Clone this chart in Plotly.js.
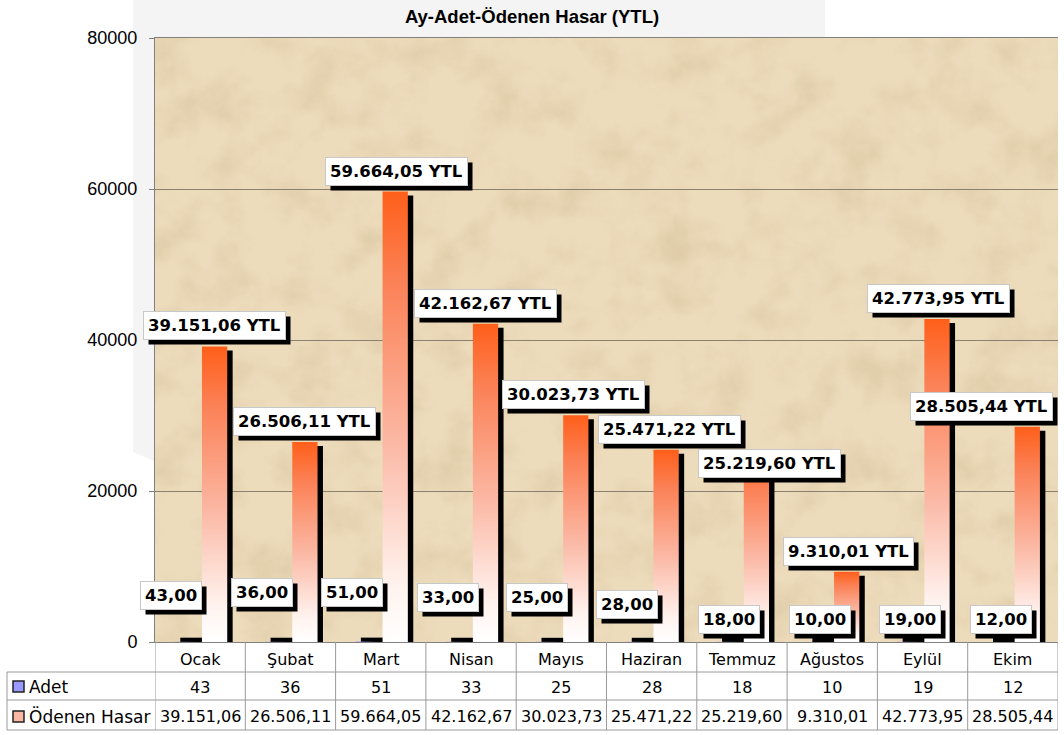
<!DOCTYPE html>
<html>
<head>
<meta charset="utf-8">
<script src="https://cdn.plot.ly/plotly-3.0.1.min.js"></script>
<style>html,body{margin:0;padding:0;background:#fff;}#chart{width:1064px;height:735px;}</style>
</head>
<body>
<div id="chart"></div>
<script>
// ---------- DATA ----------
const months = ["Ocak", "Şubat", "Mart", "Nisan", "Mayıs", "Haziran", "Temmuz", "Ağustos", "Eylül", "Ekim"];
const adet = [43, 36, 51, 33, 25, 28, 18, 10, 19, 12];
const odenenHasar = [39151.06, 26506.11, 59664.05, 42162.67, 30023.73, 25471.22, 25219.60, 9310.01, 42773.95, 28505.44];
const seriesNames = ["Adet", "Ödenen Hasar"];
const chartTitle = "Ay-Adet-Ödenen Hasar (YTL)";
const yTicks = [0, 20000, 40000, 60000, 80000];

// ---------- STYLE / LAYOUT CONFIG ----------
const W = 1064, H = 735;
const M = {l: 155, r: 6, t: 38, b: 93};
const PW = W - M.l - M.r, PH = H - M.t - M.b;
const xp = px => (px - M.l) / PW;           // pixel -> paper x
const yp = py => (H - M.b - py) / PH;       // pixel -> paper y
const barGeom = {adet: [-0.28, -0.005], odenen: [0.02, 0.30], shadowDx: 0.06};
const odenenLabelDx = [0, 0, 1, 0, -2, 3, 13, 2, 1, -46];
const odenenLabelDy = [6, 6, 6, 6, 6, 6, -26, 6, 6, 6];
const adetLabelDx = [-29, -28, -29, -23, -24, -25, -13, -12, -13, -12];
const adetLabelDy = [32, 35, 35, 30, 30, 23, 8, 8, 8, 8];
const gradScale = [[0, '#ffffff'], [0.12, '#fff3ef'], [0.45, '#fbb7a3'], [0.8, '#fb8156'], [1, '#ff5f1a']];
const labelFont = {family: 'DejaVu Sans', size: 16.5, color: '#000', weight: 'bold'};
const tableFont = {family: 'DejaVu Sans', size: 16, color: '#000'};
const shadowOffset = 5;

function trFmt(v) {
  const parts = v.toFixed(2).split('.');
  return parts[0].replace(/\B(?=(\d{3})+(?!\d))/g, '.') + ',' + parts[1];
}

// ---------- TRACES ----------
const traces = [];
const yUnitsPerPx = 80000 / PH;
months.forEach((m, i) => {
  const v = odenenHasar[i];
  const a = adet[i];
  const [o0, o1] = barGeom.odenen;
  const [a0, a1] = barGeom.adet;
  const dx = barGeom.shadowDx;
  traces.push({type: 'scatter', mode: 'lines', fill: 'toself', fillcolor: '#000', line: {width: 0},
    x: [i + a0 + dx, i + a1 + dx, i + a1 + dx, i + a0 + dx], y: [0, 0, a + 4 * yUnitsPerPx, a + 4 * yUnitsPerPx],
    hoverinfo: 'skip', showlegend: false});
  traces.push({type: 'scatter', mode: 'lines', fill: 'toself', fillcolor: '#9999ff', line: {width: 0},
    x: [i + a0, i + a1, i + a1, i + a0], y: [0, 0, a, a], name: seriesNames[0],
    hoverinfo: 'skip', showlegend: false});
  traces.push({type: 'scatter', mode: 'lines', fill: 'toself', fillcolor: '#000', line: {width: 0},
    x: [i + o0 + dx, i + o1 + dx, i + o1 + dx, i + o0 + dx], y: [0, 0, v - 4 * yUnitsPerPx, v - 4 * yUnitsPerPx],
    hoverinfo: 'skip', showlegend: false});
  traces.push({type: 'scatter', mode: 'lines', fill: 'toself', line: {width: 0},
    fillgradient: {type: 'vertical', colorscale: gradScale, start: 0, stop: v},
    x: [i + o0, i + o1, i + o1, i + o0], y: [0, 0, v, v], name: seriesNames[1],
    hoverinfo: 'skip', showlegend: false});
});

// ---------- ANNOTATIONS ----------
const ann = [];
const labelIdx = [];
function boxLabel(x, y, text, dx, dy) {
  labelIdx.push(ann.length);
  ann.push({x: x, y: y, xref: 'x', yref: 'y', text: text, showarrow: false, yanchor: 'bottom',
    xshift: dx, yshift: dy, font: labelFont, bgcolor: '#ffffff',
    bordercolor: '#c8c8c8', borderwidth: 1, borderpad: 4});
}
months.forEach((m, i) => {
  const [o0, o1] = barGeom.odenen;
  boxLabel(i + (o0 + o1) / 2, odenenHasar[i], trFmt(odenenHasar[i]) + ' YTL', odenenLabelDx[i], odenenLabelDy[i]);
  boxLabel(i, adet[i], trFmt(adet[i]), adetLabelDx[i], adetLabelDy[i]);
  ann.push({x: i, y: yp(659), xref: 'x', yref: 'paper', text: m, showarrow: false, font: tableFont, yanchor: 'middle'});
  ann.push({x: i, y: yp(687), xref: 'x', yref: 'paper', text: String(adet[i]), showarrow: false, font: tableFont, yanchor: 'middle'});
  ann.push({x: i, y: yp(716), xref: 'x', yref: 'paper', text: trFmt(odenenHasar[i]), showarrow: false, font: tableFont, yanchor: 'middle'});
});
ann.push({x: xp(27), y: yp(687), xref: 'paper', yref: 'paper', text: seriesNames[0], showarrow: false, xanchor: 'left', yanchor: 'middle', font: Object.assign({}, tableFont, {size: 17})});
ann.push({x: xp(27), y: yp(716), xref: 'paper', yref: 'paper', text: seriesNames[1], showarrow: false, xanchor: 'left', yanchor: 'middle', font: Object.assign({}, tableFont, {size: 17})});

// ---------- SHAPES (table grid, legend keys, watermark) ----------
const gridColor = '#9a9a9a';
const shapes = [];
shapes.push({type: 'path', xref: 'paper', yref: 'paper', layer: 'below',
  path: `M ${xp(133)} ${yp(0)} L ${xp(825)} ${yp(0)} L ${xp(825)} ${yp(40)} L ${xp(156)} ${yp(40)} L ${xp(156)} ${yp(462)} L ${xp(133)} ${yp(452)} Z`,
  fillcolor: '#f4f4f4', line: {width: 0}});
[672, 700, 730].forEach(py => shapes.push({type: 'line', xref: 'paper', yref: 'paper', x0: xp(7), x1: 1, y0: yp(py), y1: yp(py), line: {color: gridColor, width: 1}}));
for (let k = 0; k <= months.length; k++) {
  shapes.push({type: 'line', xref: 'x', yref: 'paper', x0: k - 0.5, x1: k - 0.5, y0: 0, y1: yp(730), line: {color: gridColor, width: 1}});
}
shapes.push({type: 'line', xref: 'paper', yref: 'paper', x0: xp(7), x1: xp(7), y0: yp(672), y1: yp(730), line: {color: gridColor, width: 1}});
shapes.push({type: 'rect', xref: 'paper', yref: 'paper', x0: xp(13), x1: xp(24), y0: yp(692), y1: yp(681), fillcolor: '#9999ff', line: {color: '#222', width: 1.5}});
shapes.push({type: 'rect', xref: 'paper', yref: 'paper', x0: xp(13), x1: xp(24), y0: yp(722), y1: yp(711), fillcolor: '#fbb7a3', line: {color: '#222', width: 1.5}});

// parchment texture
const svg = `<svg xmlns='http://www.w3.org/2000/svg' width='903' height='604'><filter id='n' x='0' y='0' width='100%' height='100%'><feTurbulence type='fractalNoise' baseFrequency='0.022' numOctaves='5' seed='11'/><feColorMatrix values='0 0 0 0 0.64  0 0 0 0 0.50  0 0 0 0 0.30  2.0 0 0 0 -0.85'/></filter><rect width='903' height='604' fill='#eddcbc'/><rect width='903' height='604' filter='url(#n)' opacity='0.5'/></svg>`;
const texture = 'data:image/svg+xml;charset=utf-8,' + encodeURIComponent(svg);

const layout = {
  width: W, height: H,
  margin: M,
  paper_bgcolor: '#ffffff',
  plot_bgcolor: '#e9d6b0',
  showlegend: false,
  title: {text: chartTitle, font: {family: 'Liberation Sans', size: 18.5, weight: 'bold', color: '#000'},
    xref: 'container', x: 0.5, xanchor: 'center', yref: 'container', y: 1 - 17 / H, yanchor: 'middle'},
  xaxis: {range: [-0.5, months.length - 0.5], showticklabels: false, showgrid: false, zeroline: false,
    showline: true, linecolor: '#808080', linewidth: 1, mirror: true, ticks: '', fixedrange: true},
  yaxis: {range: [0, 80000], tickvals: yTicks, ticktext: yTicks.map(String), showgrid: true, gridcolor: '#8a8070', gridwidth: 1,
    zeroline: false, showline: true, linecolor: '#808080', ticks: 'outside', ticklen: 5, tickcolor: '#808080',
    ticklabelstandoff: 8,
    tickfont: {family: 'Liberation Sans', size: 18, color: '#000'}, fixedrange: true},
  images: [{source: texture, xref: 'x', yref: 'y', x: -0.5, y: 80000, sizex: months.length, sizey: 80000,
    sizing: 'stretch', layer: 'below', xanchor: 'left', yanchor: 'top'}],
  annotations: ann,
  shapes: shapes
};

Plotly.newPlot('chart', traces, layout, {displayModeBar: false, staticPlot: true}).then(gd => {
  // drop shadows behind the label boxes, sized from the rendered boxes
  const r = gd.getBoundingClientRect();
  const extra = [];
  labelIdx.forEach(k => {
    const bg = gd.querySelector(`g.annotation[data-index="${k}"] rect.bg`);
    if (!bg) return;
    const b = bg.getBoundingClientRect();
    const L = b.left - r.left + shadowOffset, R = b.right - r.left + shadowOffset;
    const T = b.top - r.top + shadowOffset, B = b.bottom - r.top + shadowOffset;
    extra.push({type: 'rect', xref: 'paper', yref: 'paper', layer: 'above',
      x0: xp(L), x1: xp(R), y0: yp(B), y1: yp(T), fillcolor: '#000', line: {width: 0}});
  });
  return Plotly.relayout(gd, {shapes: shapes.concat(extra)});
});
</script>
</body>
</html>
